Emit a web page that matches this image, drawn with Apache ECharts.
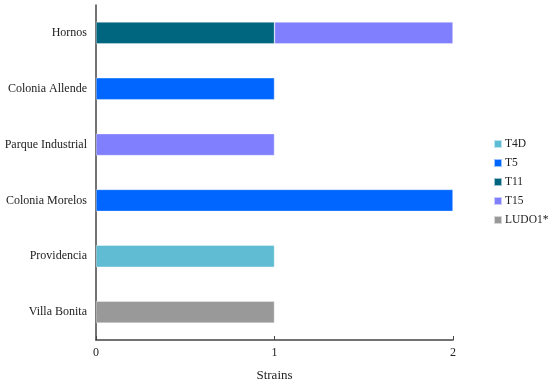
<!DOCTYPE html>
<html>
<head>
<meta charset="utf-8">
<script src="https://cdn.jsdelivr.net/npm/echarts@6/dist/echarts.min.js"></script>
<style>html,body{margin:0;padding:0;background:#fff}#c{width:550px;height:382px}</style>
</head>
<body>
<div id="c"></div>
<script>
const categories = ["Hornos", "Colonia Allende", "Parque Industrial", "Colonia Morelos", "Providencia", "Villa Bonita"];
const seriesNames = ["T4D", "T5", "T11", "T15", "LUDO1*"];
const T4D   = [null, null, null, null, 1, null];
const T5    = [null, 1, null, 2, null, null];
const T11   = [1, null, null, null, null, null];
const T15   = [1, null, 1, null, null, null];
const LUDO1 = [null, null, null, null, null, 1];
const xTicks = [0, 1, 2];

const colors = ["#5fbcd3", "#0066ff", "#006680", "#8080ff", "#999999"];
const values = [T4D, T5, T11, T15, LUDO1];
const font = "'Liberation Serif', 'DejaVu Serif', serif";

const chart = echarts.init(document.getElementById('c'), null, {renderer: 'canvas'});
chart.setOption({
  animation: false,
  backgroundColor: '#fff',
  textStyle: {fontFamily: font},
  grid: {left: 96, right: 97, top: 5, bottom: 42, containLabel: false, outerBoundsMode: 'none'},
  legend: {
    orient: 'vertical', left: 493, top: 138, padding: 0,
    itemWidth: 8, itemHeight: 8, itemGap: 7,
    icon: 'rect',
    textStyle: {fontFamily: font, fontSize: 11.5, color: '#222', padding: [0,0,0,-2]},
    data: seriesNames
  },
  xAxis: {
    type: 'value', min: xTicks[0], max: xTicks[xTicks.length-1], interval: 1,
    name: 'Strains', nameLocation: 'middle', nameGap: 29,
    nameTextStyle: {fontFamily: font, fontSize: 13, color: '#222'},
    axisLine: {show: true, lineStyle: {color: '#444', width: 1.5}},
    axisTick: {show: true, inside: true, length: 4, lineStyle: {color: '#444'}},
    axisLabel: {fontFamily: font, fontSize: 12, color: '#222', margin: 7},
    splitLine: {show: false}
  },
  yAxis: {
    type: 'category', data: categories, inverse: true,
    axisLine: {show: true, lineStyle: {color: '#444', width: 1.5}},
    axisTick: {show: true, inside: true, length: 3, alignWithLabel: true, lineStyle: {color: '#444'}},
    axisLabel: {fontFamily: font, fontSize: 12, color: '#222', margin: 9}
  },
  series: seriesNames.map((n, i) => ({
    name: n, type: 'bar', stack: 'total', data: values[i],
    barWidth: 22,
    itemStyle: {color: colors[i], borderColor: 'rgba(255,255,255,0.6)', borderWidth: 0.6}
  }))
});
</script>
</body>
</html>
